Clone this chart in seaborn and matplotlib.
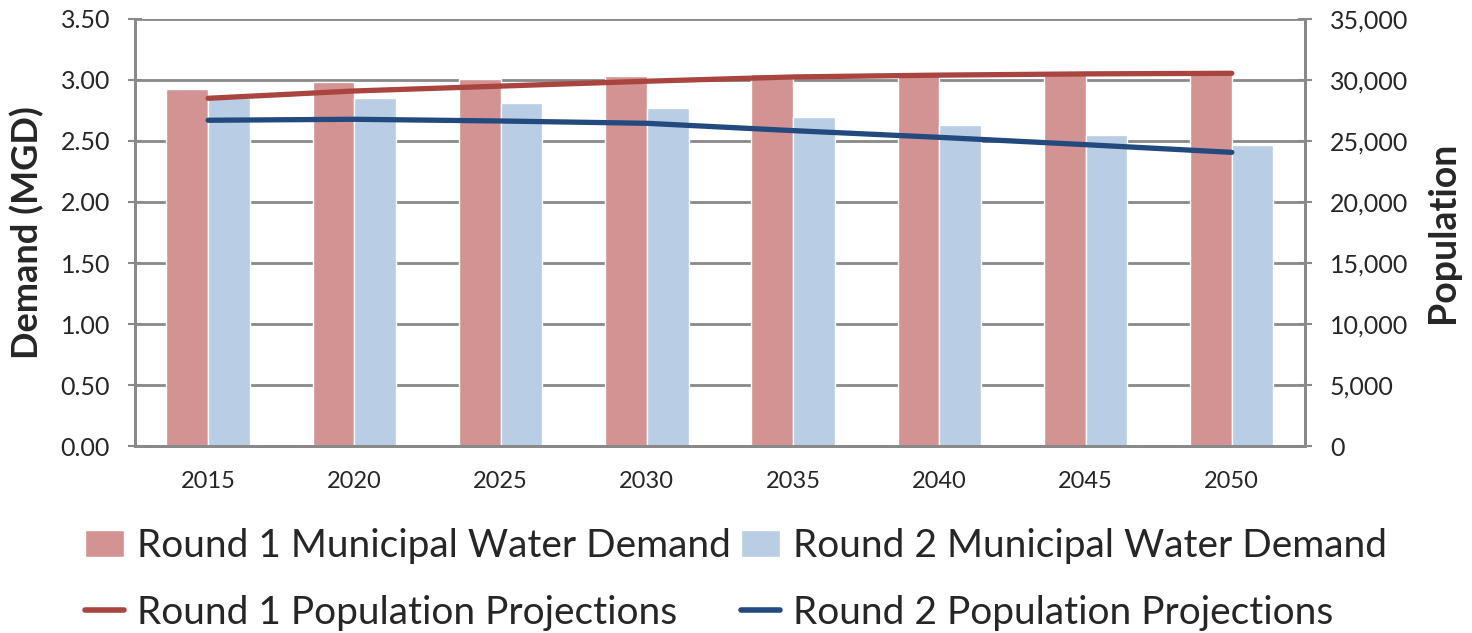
import numpy as np
import pandas as pd
import matplotlib
matplotlib.use("Agg")
import matplotlib.pyplot as plt
import seaborn as sns
from matplotlib.patches import Patch
from matplotlib.lines import Line2D
from matplotlib.ticker import FuncFormatter, FixedLocator, NullFormatter

# data
years = ["2015", "2020", "2025", "2030", "2035", "2040", "2045", "2050"]
demand_r1 = [2.93, 2.98, 3.01, 3.035, 3.05, 3.06, 3.06, 3.07]
demand_r2 = [2.85, 2.85, 2.81, 2.77, 2.70, 2.63, 2.55, 2.47]
pop_r1 = [28500, 29100, 29500, 29900, 30250, 30400, 30500, 30550]
pop_r2 = [26700, 26780, 26640, 26450, 25850, 25300, 24700, 24070]

labels = ["Round 1 Municipal Water Demand", "Round 2 Municipal Water Demand",
          "Round 1 Population Projections", "Round 2 Population Projections"]
bar_colors = ["#D39392", "#B9CDE5"]
line_colors = ["#A9443F", "#224A7E"]
grid_col = "#898989"

sns.set_style("white")
plt.rcParams['font.family'] = ['Lato', 'DejaVu Sans']

df_bars = pd.DataFrame({
    "year": years * 2,
    "demand": demand_r1 + demand_r2,
    "series": [labels[0]] * len(years) + [labels[1]] * len(years),
})

fig = plt.figure(figsize=(14.72, 6.33), dpi=100)
ax = fig.add_axes([0.0917, 0.2954, 0.7948, 0.6746])

sns.barplot(data=df_bars, x="year", y="demand", hue="series",
            palette=bar_colors, width=0.57, gap=0, saturation=1,
            ax=ax, legend=False, zorder=2)
ax.set_ylim(0, 3.5)
ax.set_xlim(-0.5, len(years) - 0.5)
ax.set_yticks(np.arange(0, 3.51, 0.5))
ax.yaxis.set_major_formatter(FuncFormatter(lambda v, p: f"{v:.2f}"))
ax.yaxis.grid(True, color=grid_col, linewidth=2)
ax.set_axisbelow(True)

# category boundary ticks, labels in between
ax.xaxis.set_major_locator(FixedLocator(np.arange(-0.5, len(years), 1.0)))
ax.xaxis.set_major_formatter(NullFormatter())
ax.xaxis.set_minor_locator(FixedLocator(np.arange(len(years))))
ax.set_xticklabels(years, minor=True)
ax.tick_params(axis="x", which="major", direction="out", length=8, width=1.5, color=grid_col)
ax.tick_params(axis="x", which="minor", length=0, labelsize=17, pad=18)
ax.tick_params(axis="y", direction="inout", length=10, width=1.5, color=grid_col,
               labelsize=18, pad=13)
ax.set_xlabel("")
ax.set_ylabel("Demand (MGD)", fontsize=26, fontweight="bold", labelpad=12)

ax.spines["top"].set_visible(False)
for side in ["left", "bottom", "right"]:
    ax.spines[side].set_color(grid_col)
    ax.spines[side].set_linewidth(2)

ax2 = ax.twinx()
xpos = np.arange(len(years))
sns.lineplot(x=xpos, y=pop_r1, color=line_colors[0], linewidth=3.8, ax=ax2,
             solid_capstyle="round")
sns.lineplot(x=xpos, y=pop_r2, color=line_colors[1], linewidth=3.8, ax=ax2,
             solid_capstyle="round")
ax2.set_ylim(0, 35000)
ax2.set_yticks(np.arange(0, 35001, 5000))
ax2.yaxis.set_major_formatter(FuncFormatter(lambda v, p: f"{v:,.0f}"))
ax2.tick_params(axis="y", direction="inout", length=10, width=1.5, color=grid_col,
                labelsize=18, pad=13)
ax2.set_ylabel("Population", fontsize=27, fontweight="bold", labelpad=13)
ax2.spines["top"].set_visible(False)
for side in ["left", "bottom", "right"]:
    ax2.spines[side].set_color(grid_col)
    ax2.spines[side].set_linewidth(2)

handles = [
    Patch(facecolor=bar_colors[0]), Line2D([], [], color=line_colors[0], linewidth=4),
    Patch(facecolor=bar_colors[1]), Line2D([], [], color=line_colors[1], linewidth=4),
]
hlabels = [labels[0], labels[2], labels[1], labels[3]]
fig.legend(handles, hlabels, loc="lower center", bbox_to_anchor=(0.5, -0.052), ncol=2,
           frameon=False, fontsize=28, handlelength=1.0, handleheight=0.7,
           handletextpad=0.35, columnspacing=0.25, labelspacing=0.8)

plt.savefig("out.png", dpi=100)
